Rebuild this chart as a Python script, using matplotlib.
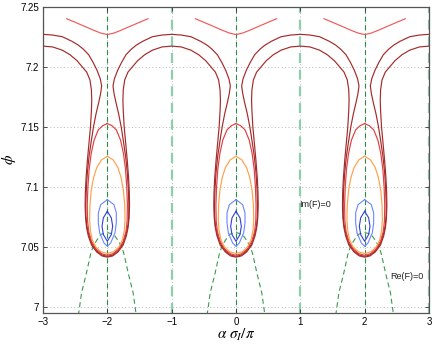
import numpy as np
import matplotlib
matplotlib.use("Agg")
import matplotlib.pyplot as plt

plt.rcParams['font.family'] = ['Liberation Sans', 'DejaVu Sans']
plt.rcParams['mathtext.fontset'] = 'stix'

# centres of the repeated structure (alpha sigma_I / pi)
centers = [-2, 0, 2]
im_zero_x = [-3, -1, 1, 3]

# half profiles (offset from centre, phi)
outer_dx = [-1.0, -0.85, -0.7, -0.55, -0.45, -0.37, -0.29, -0.22, -0.16, -0.11, -0.088,
            -0.105, -0.135, -0.175, -0.215, -0.25, -0.285, -0.31, -0.326, -0.334, -0.333,
            -0.32, -0.29, -0.24, -0.16, -0.08, 0.0]
outer_phi = [7.2270, 7.2264, 7.2250, 7.2212, 7.2180, 7.2145, 7.2100, 7.2035, 7.1970, 7.1900, 7.1840,
             7.1775, 7.1700, 7.1610, 7.1500, 7.1380, 7.1250, 7.1120, 7.0990, 7.0860, 7.0760,
             7.0680, 7.0605, 7.0525, 7.0465, 7.0432, 7.0422]

inner_dx = [-1.0, -0.85, -0.7, -0.58, -0.47, -0.39, -0.32, -0.27, -0.248, -0.242, -0.248,
            -0.262, -0.285, -0.31, -0.33, -0.342, -0.345, -0.338, -0.322, -0.295, -0.245,
            -0.165, -0.083, 0.0]
inner_phi = [7.2172, 7.2165, 7.2138, 7.2100, 7.2050, 7.2000, 7.1955, 7.1890, 7.1810, 7.1720, 7.1630,
             7.1500, 7.1370, 7.1220, 7.1080, 7.0950, 7.0840, 7.0740, 7.0660, 7.0590, 7.0515,
             7.0458, 7.0425, 7.0415]

red_dx = [0.0, -0.07, -0.14, -0.205, -0.25, -0.282, -0.302, -0.312, -0.308, -0.29, -0.245,
          -0.17, -0.085, 0.0]
red_phi = [7.1527, 7.1510, 7.1475, 7.1390, 7.1280, 7.1150, 7.1000, 7.0850, 7.0720, 7.0630, 7.0545,
           7.0480, 7.0443, 7.0430]

orange_dx = [0.0, -0.09, -0.165, -0.215, -0.25, -0.27, -0.275, -0.265, -0.235, -0.18, -0.1, 0.0]
orange_phi = [7.1255, 7.1225, 7.1160, 7.1075, 7.0970, 7.0850, 7.0730, 7.0640, 7.0560, 7.0500,
              7.0460, 7.0445]

top_dx = [-0.632, -0.53, -0.425, -0.32, -0.218, -0.1, 0.0]
top_phi = [7.2400, 7.2377, 7.2353, 7.2329, 7.2305, 7.2280, 7.2268]

lblue_dx = [0.0, -0.103, -0.14, -0.14, -0.119, -0.052, 0.0]
lblue_phi = [7.0894, 7.0852, 7.0783, 7.0700, 7.0617, 7.0533, 7.0505]

dblue_dx = [0.0, -0.062, -0.083, -0.062, 0.0]
dblue_phi = [7.0797, 7.0742, 7.0672, 7.0603, 7.0547]

# Re(F)=0 curve, from the lower edge up to the crest
re_dx = [-0.45, -0.4, -0.33, -0.26, -0.22, -0.165, -0.1, 0.0]
re_phi = [6.9930, 7.0120, 7.0270, 7.0440, 7.0505, 7.0555, 7.0605, 7.0620]

xticks = [-3, -2, -1, 0, 1, 2, 3]
yticks = [7.0, 7.05, 7.1, 7.15, 7.2, 7.25]
ytick_labels = ['7', '7.05', '7.1', '7.15', '7.2', '7.25']


def mirrored(dx, ph):
    """Profile given on the left of a centre, completed by its mirror image."""
    dx = np.asarray(dx, float)
    ph = np.asarray(ph, float)
    x = np.concatenate([dx, -dx[::-1][1:]])
    y = np.concatenate([ph, ph[::-1][1:]])
    return x, y


fig = plt.figure(figsize=(4.36, 3.46), dpi=100)
ax = fig.add_axes([43/436, 33/346, 386/436, 306.3/346])

# grid
for xv in xticks:
    ax.axvline(xv, color='#b8b8b8', lw=0.7, ls=(0, (1, 2.5)), zorder=0)
for yv in yticks:
    ax.axhline(yv, color='#b8b8b8', lw=0.7, ls=(0, (1, 2.5)), zorder=0)

# Im(F)=0 lines
for xv in im_zero_x:
    ax.axvline(xv, color='#8ccfaa', lw=1.6, ls=(0, (4.5, 3)), zorder=1)
for c in centers:
    ax.axvline(c, color='#2f8a48', lw=0.8, ls=(0, (4.5, 3)), zorder=1)

# long meandering dark-red contours
for dx, ph in [(outer_dx, outer_phi), (inner_dx, inner_phi)]:
    hx, hy = mirrored(dx, ph)
    X = np.concatenate([c + hx for c in centers])
    Y = np.concatenate([hy for c in centers])
    ax.plot(X, Y, color='#a52a2a', lw=0.85, zorder=3)

for c in centers:
    x, y = mirrored(red_dx, red_phi)
    ax.plot(c + x, y, color='#e04040', lw=0.85, zorder=3)
    x, y = mirrored(orange_dx, orange_phi)
    ax.plot(c + x, y, color='#ffa04a', lw=0.85, zorder=3)
    x, y = mirrored(top_dx, top_phi)
    ax.plot(c + x, y, color='#f05a5a', lw=0.85, zorder=3)
    x, y = mirrored(lblue_dx, lblue_phi)
    ax.plot(c + x, y, color='#6a86ff', lw=0.8, zorder=3)
    x, y = mirrored(dblue_dx, dblue_phi)
    ax.plot(c + x, y, color='#3040d8', lw=0.8, zorder=3)
    x, y = mirrored(re_dx, re_phi)
    ax.plot(c + x, y, color='#3a9a50', lw=0.8, ls=(0, (4.5, 3)), zorder=2)

ax.text(0.98, 7.0852, 'Im(F)=0', fontsize=6.5, va='center', ha='left', color='#222222')
ax.text(2.394, 7.025, 'Re(F)=0', fontsize=6.5, va='center', ha='left', color='#222222')

ax.set_xlim(-3, 3)
ax.set_ylim(6.995, 7.25)
ax.set_xticks(xticks)
ax.set_yticks(yticks)
ax.set_yticklabels(ytick_labels)
ax.tick_params(direction='in', length=3, width=0.6, labelsize=7, top=True, right=True,
               colors='#333333', labelcolor='black', pad=3)
for s in ax.spines.values():
    s.set_color('#555555')
    s.set_linewidth(0.9)

ax.set_xlabel(r'$\alpha\ \sigma_I/\pi$', fontsize=11, labelpad=0)
ax.set_ylabel(r'$\phi$', fontsize=11)
ax.yaxis.set_label_coords(-0.065, 0.5)

fig.savefig('out.png', dpi=100)
